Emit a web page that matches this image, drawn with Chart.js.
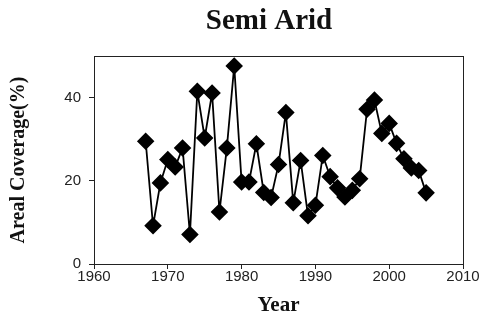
<!DOCTYPE html>
<html>
<head>
<meta charset="utf-8">
<script src="https://cdn.jsdelivr.net/npm/chart.js@4"></script>
<style>
  body { margin: 0; background: #fff; }
  #wrap { width: 484px; height: 320px; }
</style>
</head>
<body>
<div id="wrap"><canvas id="myChart" width="484" height="320"></canvas></div>
<script>
var chartTitle = "Semi Arid";
var years = [1967, 1968, 1969, 1970, 1971, 1972, 1973, 1974, 1975, 1976,
  1977, 1978, 1979, 1980, 1981, 1982, 1983, 1984, 1985, 1986,
  1987, 1988, 1989, 1990, 1991, 1992, 1993, 1994, 1995, 1996,
  1997, 1998, 1999, 2000, 2001, 2002, 2003, 2004, 2005];
var coverage = [29.5, 9.2, 19.5, 25.1, 23.3, 27.9, 7.1, 41.5, 30.3, 41.1,
  12.5, 27.9, 47.6, 19.7, 19.7, 28.9, 17.2, 16.0, 23.9, 36.4,
  14.7, 24.9, 11.6, 14.1, 26.1, 21.0, 18.3, 16.1, 17.7, 20.5,
  37.2, 39.4, 31.4, 33.8, 29.0, 25.3, 23.1, 22.5, 17.1];
var yTicks = [0, 20, 40];

var points = [];
for (var i = 0; i < years.length; i++) {
  points.push({ x: years[i], y: coverage[i] });
}

var serif = "'Liberation Serif', 'Times New Roman', serif";
var sans = "'Liberation Sans', Arial, sans-serif";

// frame round the plot area, and the title (sits a bit left of the plot centre)
var boxPlugin = {
  id: 'box',
  afterDraw: function (chart) {
    var a = chart.chartArea;
    var ctx = chart.ctx;
    ctx.save();
    ctx.strokeStyle = '#222';
    ctx.lineWidth = 1;
    ctx.strokeRect(a.left + 0.5, a.top + 0.5, a.right - a.left, a.bottom - a.top);
    ctx.fillStyle = '#111';
    ctx.font = "bold 29px " + serif;
    ctx.textAlign = 'center';
    ctx.textBaseline = 'alphabetic';
    ctx.fillText(chartTitle, 269, 29);
    ctx.restore();
  }
};

var ctx = document.getElementById("myChart").getContext("2d");
var chart = new Chart(ctx, {
  type: "scatter",
  data: {
    datasets: [{
      data: points,
      showLine: true,
      borderColor: "#000",
      borderWidth: 1.8,
      backgroundColor: "#000",
      pointStyle: "rectRot",
      pointRadius: 7.5,
      pointHoverRadius: 7.5,
    }],
  },
  options: {
    responsive: false,
    animation: false,
    layout: { padding: { left: 0, right: 21, top: 56, bottom: 0 } },
    plugins: {
      legend: { display: false },
      tooltip: { enabled: false },
      title: { display: false },
    },
    scales: {
      x: {
        type: "linear",
        min: 1960,
        max: 2010,
        afterFit: function (axis) { axis.height = 56; },
        ticks: {
          stepSize: 10,
          color: "#222",
          font: { family: sans, size: 15 },
          padding: -1,
          callback: function (v) { return String(v); },
        },
        grid: { drawOnChartArea: false, color: "#222", tickLength: 5 },
        border: { color: "#222" },
        title: {
          display: true,
          text: "Year",
          color: "#111",
          font: { family: serif, size: 21, weight: "bold" },
          padding: { top: 0, bottom: 2 },
        },
      },
      y: {
        min: 0,
        max: 50,
        afterFit: function (axis) { axis.width = 94; },
        afterBuildTicks: function (axis) {
          axis.ticks = yTicks.map(function (v) { return { value: v }; });
        },
        ticks: { color: "#222", font: { family: sans, size: 15 }, padding: 8 },
        grid: { drawOnChartArea: false, color: "#222", tickLength: 5 },
        border: { color: "#222" },
        title: {
          display: true,
          text: "Areal Coverage(%)",
          color: "#111",
          font: { family: serif, size: 20, weight: "bold" },
          padding: { top: 7, bottom: 0 },
        },
      },
    },
  },
  plugins: [boxPlugin],
});
</script>
</body>
</html>
